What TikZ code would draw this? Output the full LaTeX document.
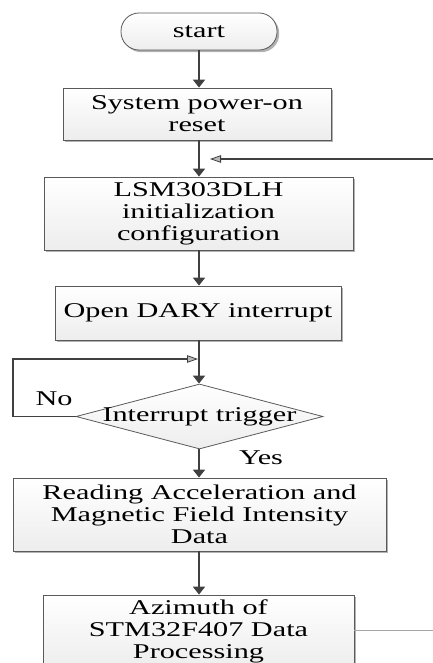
\documentclass[tikz,border=0pt]{standalone}
\usepackage{fontspec}
\setmainfont{Liberation Serif}[FakeStretch=1.44]
\usetikzlibrary{arrows.meta,shapes.geometric,shadows}
\newcommand\flowfont{\fontsize{21}{22}\selectfont}
\definecolor{linedark}{HTML}{404040}
\definecolor{edgegray}{HTML}{5A5A5A}
\begin{document}
\begin{tikzpicture}[x=1pt,y=-1pt,
  box/.style={draw=edgegray, line width=0.8pt, top color=white, bottom color=gray!14,
    drop shadow={shadow xshift=2.2pt, shadow yshift=-2.2pt, fill=gray!60, opacity=1},
    align=center, inner sep=0pt, font=\flowfont, text=black},
  term/.style={box, rounded corners=18pt, minimum width=156pt, minimum height=37pt},
  decision/.style={diamond, draw=edgegray, line width=0.8pt, top color=white, bottom color=gray!14,
    inner sep=0pt, font=\flowfont},
  flow/.style={draw=linedark, line width=1.8pt, -{Triangle[length=8pt,width=12pt]}},
  back/.style={draw=linedark, line width=1.2pt,
    -{Triangle[length=11pt,width=7.5pt,fill=gray!55,line width=0.8pt]}},
  tail/.style={draw=gray!70, line width=0.8pt},
  note/.style={font=\flowfont, inner sep=0pt}]
\useasboundingbox (0,0) rectangle (433,663);
\clip (0,0) rectangle (433,663);

% steps of the flow
\node[term] (start) at (199,31.5) {start};
\node[box, minimum width=268pt, minimum height=52pt] (reset) at (197,114) {System power-on\\reset};
\node[box, minimum width=309pt, minimum height=73pt] (init) at (198.5,213.5) {LSM303DLH\\initialization\\configuration};
\node[box, minimum width=286pt, minimum height=54pt] (irq) at (198,313) {Open DARY interrupt};
\node[decision, minimum width=247pt, minimum height=65pt] (trig) at (199.5,416.5) {\makebox[0pt]{Interrupt trigger}};
\node[box, minimum width=373pt, minimum height=73pt] (read) at (199.5,514.5) {Reading Acceleration and\\Magnetic Field Intensity\\Data};
\node[box, minimum width=311pt, minimum height=73pt] (proc) at (198.5,631.5) {Azimuth of\\STM32F407 Data\\Processing};

% branch labels
\node[note] (no) at (54,399) {No};
\node[note] (yes) at (261,458) {Yes};

% main vertical flow
\draw[flow] (start.south) -- (start.south |- reset.north);
\draw[flow] (reset.south -| start) -- (init.north -| start);
\draw[flow] (init.south -| start) -- (irq.north -| start);
\draw[flow] (irq.south -| start) -- (trig.north -| start);
\draw[flow] (trig.south -| start) -- (read.north -| start);
\draw[flow] (read.south -| start) -- (proc.north -| start);

% return path entering above the initialization step
\coordinate (fbin) at (433,159);
\coordinate (fbend) at (210,159);
\draw[back] (fbin) -- (fbend);

% "No" loop back to the decision
\coordinate (loopcorner) at (13,359);
\coordinate (looptip) at (198,359);
\draw[back] (trig.west) -| (loopcorner) -- (looptip);

% exit line from the processing step
\coordinate (outend) at (433,630);
\draw[tail] (proc.east |- outend) -- (outend);
\end{tikzpicture}
\end{document}
